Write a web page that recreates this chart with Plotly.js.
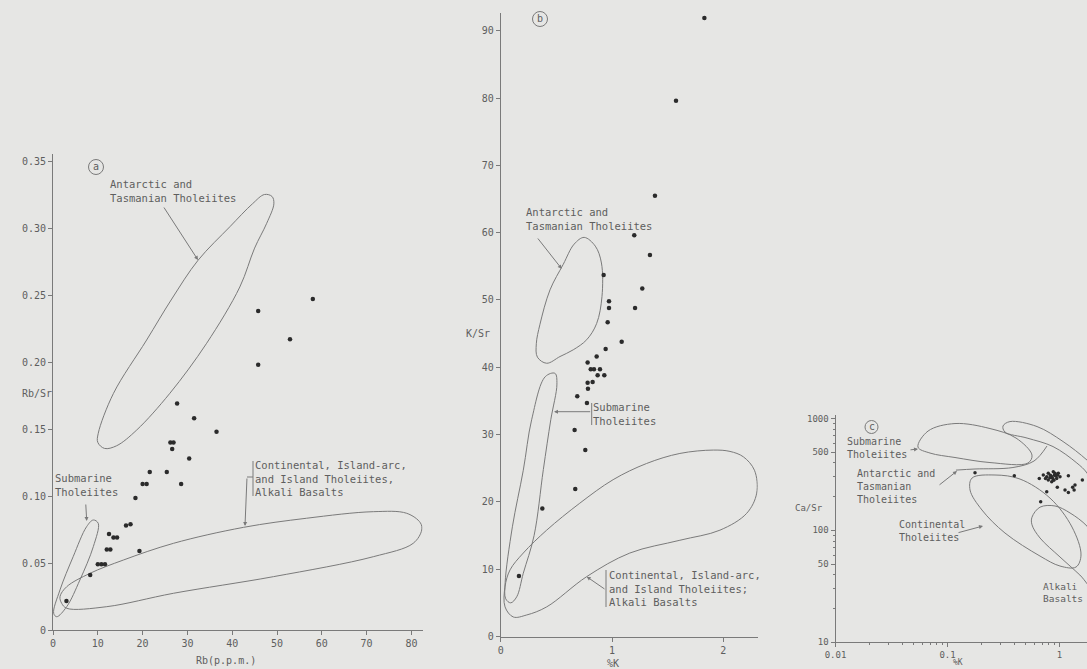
<!DOCTYPE html>
<html>
<head>
<meta charset="utf-8">
<script src="https://cdn.plot.ly/plotly-3.0.1.min.js"></script>
<style>
html,body{margin:0;padding:0;background:#e6e6e4;}
#chart{width:1087px;height:669px;}
</style>
</head>
<body>
<div id="chart"></div>
<script>
// ---------- Panel (a): Rb/Sr vs Rb (ppm) ----------
const rbA   = [58.0, 45.8, 52.9, 45.8, 27.7, 31.5, 36.5, 26.2, 26.9, 26.6, 30.4, 21.6, 25.4, 20.0, 20.9, 28.6, 18.4, 16.3, 17.3, 12.5, 13.5, 14.3, 12.0, 12.8, 19.3, 10.0, 10.8, 11.6, 8.3, 3.0];
const rbsrA = [0.247, 0.238, 0.217, 0.198, 0.169, 0.158, 0.148, 0.140, 0.140, 0.135, 0.128, 0.118, 0.118, 0.109, 0.109, 0.109, 0.0985, 0.078, 0.079, 0.0716, 0.069, 0.069, 0.060, 0.060, 0.059, 0.049, 0.049, 0.049, 0.041, 0.0216];
const xTicksA = [0, 10, 20, 30, 40, 50, 60, 70, 80];
const yTicksA = [0, 0.05, 0.10, 0.15, 0.20, 0.25, 0.30, 0.35];
const yTickTextA = ['0', '0.05', '0.10', '0.15', '0.20', '0.25', '0.30', '0.35'];

// field outlines (data units)
const antA_x = [20.9, 26.5, 32.4, 39.5, 44.5, 47.2, 48.9, 49.3, 47.7, 45.0, 41.7, 34.3, 26.1, 18.7, 14.2, 11.5, 10.0, 10.1, 13.5, 20.9];
const antA_y = [0.2164, 0.247, 0.276, 0.301, 0.318, 0.325, 0.3235, 0.318, 0.3035, 0.285, 0.256, 0.214, 0.1767, 0.1493, 0.1375, 0.1355, 0.140, 0.1468, 0.1766, 0.2164];
const subA_x = [6.0, 3.06, 0.83, 0.15, 1.56, 4.5, 7.5, 9.0, 10.1, 9.0, 6.0];
const subA_y = [0.0373, 0.0174, 0.0099, 0.0125, 0.0299, 0.0547, 0.0771, 0.0821, 0.0796, 0.0622, 0.0373];
const conA_x = [26.9, 42.5, 56.6, 71.5, 78.95, 82.0, 82.3, 80.4, 71.5, 49.2, 26.9, 12.0, 3.06, 1.94, 1.56, 3.06, 8.26, 15.7, 26.9];
const conA_y = [0.0647, 0.0766, 0.0834, 0.0883, 0.0871, 0.0800, 0.0746, 0.0647, 0.0547, 0.0398, 0.0274, 0.0174, 0.0162, 0.0199, 0.0249, 0.0323, 0.0423, 0.0522, 0.0647];

// ---------- Panel (b): K/Sr vs %K ----------
const kB   = [1.83, 1.575, 1.386, 1.20, 1.341, 1.272, 1.207, 0.925, 0.973, 0.973, 0.961, 1.087, 0.943, 0.862, 0.781, 0.809, 0.838, 0.892, 0.871, 0.931, 0.826, 0.781, 0.784, 0.688, 0.775, 0.664, 0.760, 0.670, 0.374, 0.164];
const ksrB = [91.9, 79.6, 65.5, 59.6, 56.7, 51.7, 48.8, 53.7, 49.8, 48.8, 46.7, 43.8, 42.7, 41.6, 40.7, 39.7, 39.7, 39.7, 38.8, 38.8, 37.8, 37.7, 36.8, 35.7, 34.7, 30.7, 27.7, 21.9, 19.0, 9.0];
const xTicksB = [0, 1, 2];
const yTicksB = [0, 10, 20, 30, 40, 50, 60, 70, 80, 90];

const antB_x = [0.443, 0.562, 0.66, 0.75, 0.85, 0.905, 0.91, 0.862, 0.773, 0.652, 0.533, 0.413, 0.33, 0.32, 0.353, 0.443];
const antB_y = [51.5, 55.3, 58.3, 59.3, 58.0, 55.5, 50.5, 46.5, 44.1, 42.6, 41.6, 40.6, 41.5, 43.5, 46.4, 51.5];
const subB_x = [0.203, 0.278, 0.40, 0.488, 0.505, 0.45, 0.383, 0.30, 0.203, 0.144, 0.09, 0.045, 0.04, 0.105, 0.203];
const subB_y = [24.7, 32.2, 38.6, 39.1, 37.5, 32.2, 24.8, 15.0, 9.4, 5.9, 5.0, 5.6, 8.0, 16.3, 24.7];
const conB_x = [1.01, 1.31, 1.61, 1.91, 2.06, 2.18, 2.28, 2.30, 2.21, 1.97, 1.61, 1.16, 0.773, 0.413, 0.234, 0.113, 0.039, 0.039, 0.084, 0.203, 0.413, 0.71, 1.01];
const conB_y = [23.3, 25.7, 27.2, 27.7, 27.5, 26.7, 24.7, 21.3, 18.3, 15.8, 14.3, 12.4, 8.9, 4.4, 3.2, 2.9, 4.4, 7.4, 9.9, 12.4, 15.8, 19.8, 23.3];

// ---------- Panel (c): Ca/Sr vs %K (log-log) ----------
const kC   = [0.176, 0.395, 0.679, 0.660, 0.717, 0.794, 0.852, 0.912, 0.944, 0.852, 1.01, 0.794, 0.880, 0.976, 0.769, 1.20, 1.60, 0.769, 0.956, 1.12, 1.20, 1.31, 1.375, 1.35, 0.83, 0.90, 0.87, 0.93, 0.82, 0.75, 0.89, 0.96];
const casrC = [327, 307, 180, 291, 312, 323, 301, 323, 291, 272, 301, 281, 334, 323, 301, 307, 281, 221, 242, 229, 218, 242, 254, 229, 310, 310, 290, 305, 295, 290, 280, 312];
const xTicksC = [0.01, 0.1, 1];
const xTickTextC = ['0.01', '0.1', '1'];
const xMinorC = [0.02, 0.03, 0.04, 0.05, 0.06, 0.07, 0.08, 0.09, 0.2, 0.3, 0.4, 0.5, 0.6, 0.7, 0.8, 0.9];
const yTicksC = [10, 50, 100, 500, 1000];
const yMinorC = [20, 30, 40, 60, 70, 80, 90, 200, 300, 400, 600, 700, 800, 900];

const subC_x = [0.2395, 0.1167, 0.0698, 0.0545, 0.067, 0.1167, 0.2395, 0.409, 0.568, 0.523, 0.2395];
const subC_y = [403, 447, 490, 554, 770, 899, 811, 667, 470, 399, 403];
const urC_x = [0.875, 0.513, 0.326, 0.313, 0.361, 0.630, 1.075, 1.76, 2.55, 2.94, 2.30, 1.76, 1.43, 0.875];
const urC_y = [560, 667, 755, 854, 936, 845, 621, 424, 293, 207, 194, 325, 399, 560];
const antC_x = [0.119, 0.176, 0.384, 0.592, 0.773];
const antC_y = [345, 353, 364, 416, 566];
const conC_x = [0.326, 0.203, 0.159, 0.1656, 0.2655, 0.444, 0.823, 1.293, 1.556, 1.404, 1.010, 0.670, 0.326];
const conC_y = [94.6, 152, 229, 293, 312, 287, 194, 107, 60.2, 47.0, 48.0, 58.9, 94.6];
const alkC_x = [0.670, 0.568, 0.568, 0.670, 0.912, 1.241, 1.760, 2.30, 2.55, 2.07, 1.52, 1.01, 0.670];
const alkC_y = [85.4, 112, 131, 161, 165, 143, 109, 73.9, 39.9, 29.3, 39.9, 57.8, 85.4];

// ---------- styling ----------
const W = 1087, H = 669;
const BG = '#e6e6e4';
const LINE = '#7a7a7a';
const TXT = '#5e5e5e';
const FONT = 'DejaVu Sans Mono';
const PX = p => p / W;
const PY = p => 1 - p / H;

function outline(x, y, xa, ya) {
  return {x: x, y: y, xaxis: xa, yaxis: ya, type: 'scatter', mode: 'lines',
    line: {color: LINE, width: 1, shape: 'spline', smoothing: 1}, hoverinfo: 'skip'};
}
function pts(x, y, xa, ya, size) {
  return {x: x, y: y, xaxis: xa, yaxis: ya, type: 'scatter', mode: 'markers',
    marker: {color: '#2b2b2b', size: size}, hoverinfo: 'x+y'};
}

const traces = [
  outline(antA_x, antA_y, 'x', 'y'),
  outline(subA_x, subA_y, 'x', 'y'),
  outline(conA_x, conA_y, 'x', 'y'),
  pts(rbA, rbsrA, 'x', 'y', 4.5),
  outline(antB_x, antB_y, 'x2', 'y2'),
  outline(subB_x, subB_y, 'x2', 'y2'),
  outline(conB_x, conB_y, 'x2', 'y2'),
  pts(kB, ksrB, 'x2', 'y2', 4.5),
  outline(subC_x, subC_y, 'x3', 'y3'),
  outline(urC_x, urC_y, 'x3', 'y3'),
  outline(antC_x, antC_y, 'x3', 'y3'),
  outline(conC_x, conC_y, 'x3', 'y3'),
  outline(alkC_x, alkC_y, 'x3', 'y3'),
  pts(kC, casrC, 'x3', 'y3', 3.5)
];

function axisBase(extra) {
  return Object.assign({
    showline: true, linecolor: LINE, linewidth: 1, showgrid: false, zeroline: false,
    ticks: 'outside', ticklen: 4, tickcolor: LINE, tickwidth: 1,
    tickfont: {family: FONT, size: 10, color: TXT}, automargin: false, fixedrange: true
  }, extra);
}

// text annotations
function label(text, leftPx, midPy, size) {
  return {text: text, xref: 'paper', yref: 'paper', x: PX(leftPx), y: PY(midPy),
    xanchor: 'left', yanchor: 'middle', align: 'left', showarrow: false,
    font: {family: FONT, size: size || 10.5, color: TXT}};
}
function labelRight(text, rightPx, midPy, size) {
  return {text: text, xref: 'paper', yref: 'paper', x: PX(rightPx), y: PY(midPy),
    xanchor: 'right', yanchor: 'middle', align: 'left', showarrow: false,
    font: {family: FONT, size: size || 10.5, color: TXT}};
}
function centered(text, cx, cy, size) {
  return {text: text, xref: 'paper', yref: 'paper', x: PX(cx), y: PY(cy),
    xanchor: 'center', yanchor: 'middle', showarrow: false,
    font: {family: FONT, size: size || 10, color: TXT}};
}
function arrow(hx, hy, tx, ty) {
  return {text: '', xref: 'paper', yref: 'paper', x: PX(hx), y: PY(hy),
    ax: tx - hx, ay: ty - hy, showarrow: true, arrowhead: 2, arrowsize: 0.8,
    arrowwidth: 1, arrowcolor: LINE};
}
function seg(x0, y0, x1, y1) {
  return {type: 'line', xref: 'paper', yref: 'paper', x0: PX(x0), y0: PY(y0), x1: PX(x1), y1: PY(y1),
    line: {color: LINE, width: 1}};
}
function ring(cx, cy, r) {
  return {type: 'circle', xref: 'paper', yref: 'paper', x0: PX(cx - r), x1: PX(cx + r),
    y0: PY(cy + r), y1: PY(cy - r), line: {color: LINE, width: 1}};
}

const annotations = [
  // panel a
  label('Antarctic and<br>Tasmanian Tholeiites', 108, 190.5),
  label('Submarine<br>Tholeiites', 53, 485),
  label('Continental, Island-arc,<br>and Island Tholeiites,<br>Alkali Basalts', 253, 478.5),
  arrow(198, 260, 163, 206),
  arrow(86.7, 521, 85.7, 503),
  arrow(245, 526, 247, 477),
  centered('Rb/Sr', 37, 393),
  centered('Rb(p.p.m.)', 226, 660),
  centered('a', 96, 166.5, 10),
  // panel b
  label('Antarctic and<br>Tasmanian Tholeiites', 524, 219),
  label('Submarine<br>Tholeiites', 591, 414),
  label('Continental, Island-arc,<br>and Island Tholeiites;<br>Alkali Basalts', 607, 588),
  arrow(561.7, 268.8, 536.7, 237),
  arrow(554, 411.7, 591.7, 411.7),
  arrow(586.7, 576.7, 606, 590),
  centered('K/Sr', 478, 333),
  centered('%K', 613, 663),
  centered('b', 540, 18.5, 10),
  // panel c
  label('Submarine<br>Tholeiites', 845, 448, 10),
  label('Antarctic and<br>Tasmanian<br>Tholeiites', 855, 487, 10),
  label('Continental<br>Tholeiites', 897, 531, 10),
  labelRight('Alkali<br>Basalts', 1085, 592, 9.5),
  arrow(918, 449, 909, 450),
  arrow(957, 471, 938, 486),
  arrow(983, 526, 957, 533),
  centered('Ca/Sr', 809, 508, 9),
  centered('%K', 958, 662, 8),
  centered('c', 871.5, 426.5, 10)
];

const shapes = [
  seg(253, 461, 253, 496), seg(247, 477, 253, 477),
  seg(591.7, 403, 591.7, 425),
  seg(606, 570, 606, 607),
  ring(96, 167, 7.5), ring(540, 19, 7.5), ring(871.5, 427, 6.5)
];

const layout = {
  width: W, height: H,
  margin: {l: 0, r: 0, t: 0, b: 0, pad: 0},
  paper_bgcolor: BG, plot_bgcolor: BG,
  showlegend: false,
  font: {family: FONT, color: TXT},
  xaxis: axisBase({domain: [53 / W, 422.6 / W], range: [0, 82.5], tickvals: xTicksA, anchor: 'y'}),
  yaxis: axisBase({domain: [1 - 630 / H, 1 - 154.3 / H], range: [0, 0.355], tickvals: yTicksA, ticktext: yTickTextA, anchor: 'x'}),
  xaxis2: axisBase({domain: [500.7 / W, 757.8 / W], range: [0, 2.31], tickvals: xTicksB, anchor: 'y2'}),
  yaxis2: axisBase({domain: [1 - 636.5 / H, 1 - 12.6 / H], range: [0, 92.7], tickvals: yTicksB, anchor: 'x2'}),
  xaxis3: axisBase({domain: [835.5 / W, 1], type: 'log', range: [-2, 0.2455], tickvals: xTicksC, ticktext: xTickTextC,
    tickfont: {family: FONT, size: 9, color: TXT}, anchor: 'y3',
    minor: {tickmode: 'array', tickvals: xMinorC, ticks: 'outside', ticklen: 2, tickcolor: LINE}}),
  yaxis3: axisBase({domain: [1 - 642.3 / H, 1 - 415 / H], type: 'log', range: [1, 3.03], tickvals: yTicksC,
    ticktext: yTicksC.map(String), tickfont: {family: FONT, size: 9, color: TXT}, anchor: 'x3',
    minor: {tickmode: 'array', tickvals: yMinorC, ticks: 'outside', ticklen: 2, tickcolor: LINE}}),
  annotations: annotations,
  shapes: shapes
};

Plotly.newPlot('chart', traces, layout, {displayModeBar: false, staticPlot: true});
</script>
</body>
</html>
